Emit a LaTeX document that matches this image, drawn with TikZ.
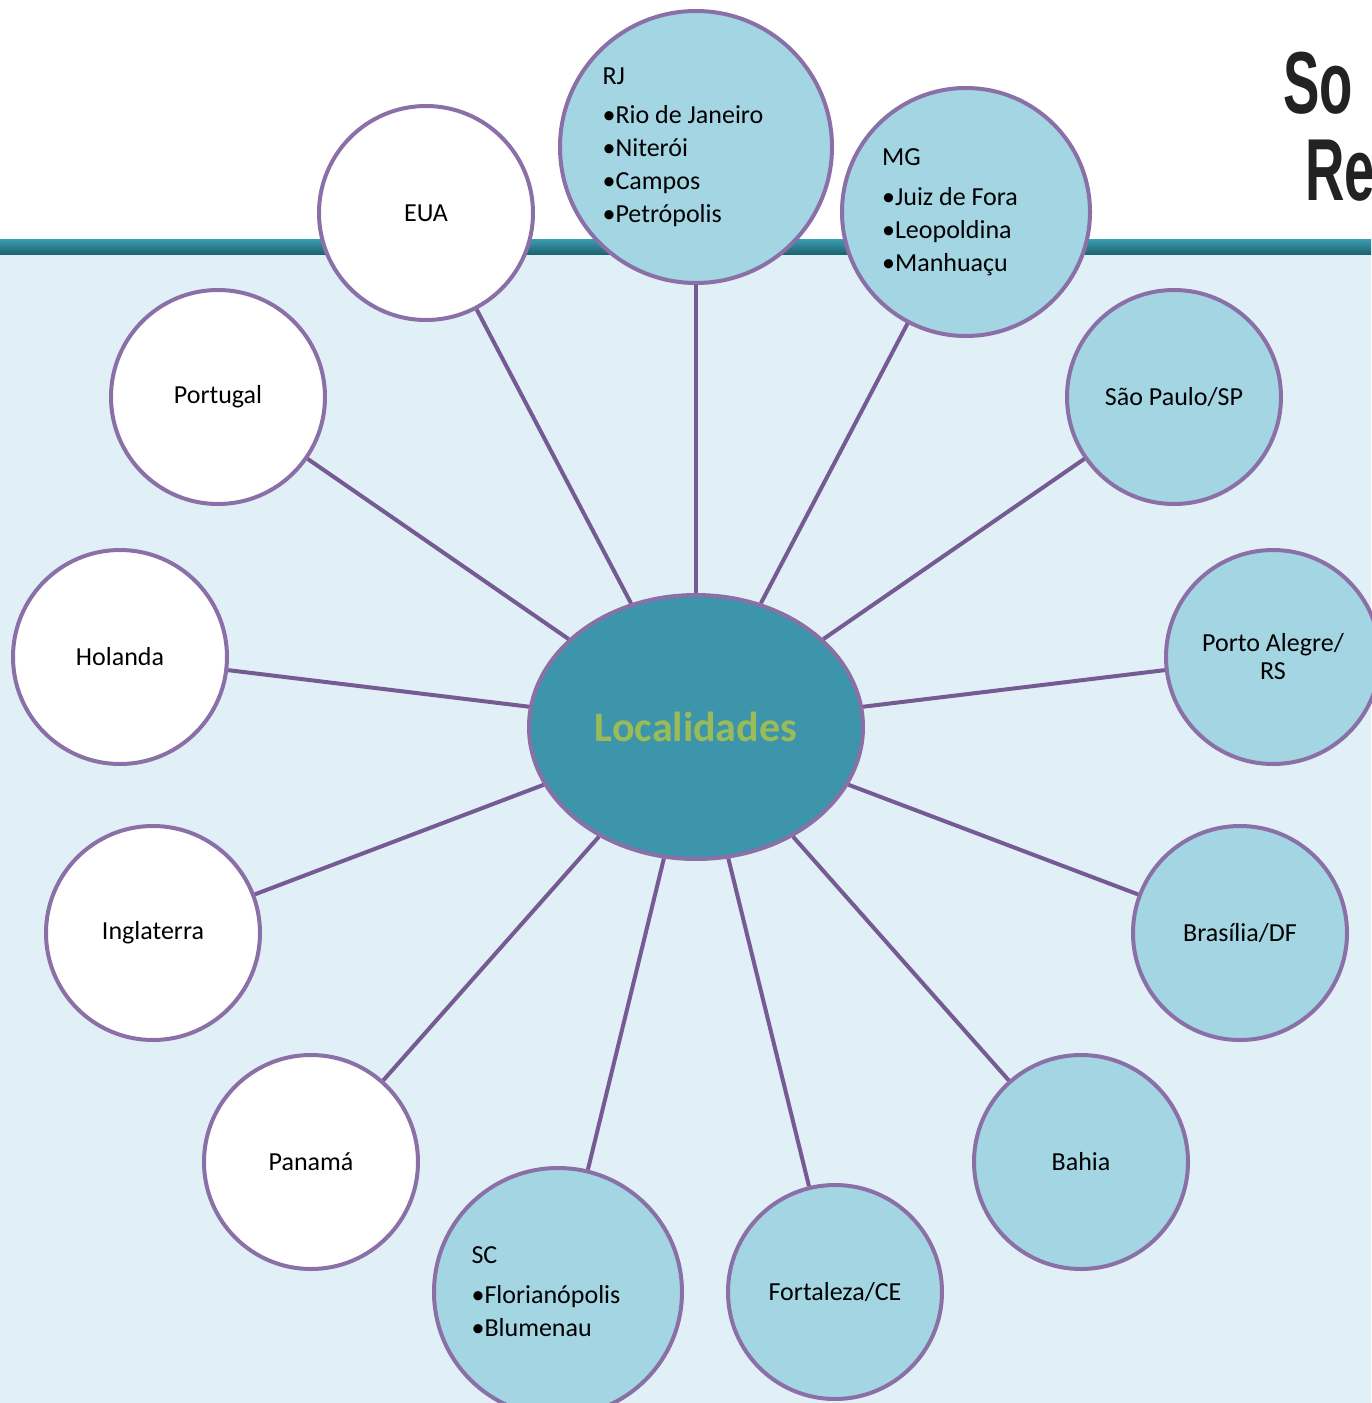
\documentclass[tikz,border=0pt]{standalone}
\usepackage{fontspec}
\setmainfont{Carlito}
\newfontfamily\titlefont[FakeStretch=0.62]{Liberation Sans}
\usetikzlibrary{shapes.geometric}
\definecolor{bgblue}{HTML}{E1EFF6}
\definecolor{bandtop}{HTML}{3A9DB1}
\definecolor{bandbot}{HTML}{1B5F6C}
\definecolor{ringc}{HTML}{8A70A6}
\definecolor{linkc}{HTML}{755A93}
\definecolor{cityfill}{HTML}{A3D5E3}
\definecolor{hubfill}{HTML}{3C95AB}
\definecolor{hubtext}{HTML}{9BBB59}
\definecolor{titlec}{HTML}{222222}
\newcommand{\padr}[1]{\rule{#1}{0pt}}
\begin{document}
\begin{tikzpicture}[x=1pt,y=-1pt,
  place/.style={circle, draw=ringc, line width=4pt, minimum size=214pt, inner sep=0pt,
    font=\fontsize{26}{33}\selectfont, text=black},
  foreign/.style={place, fill=white},
  home/.style={place, fill=cityfill},
  link/.style={draw=linkc, line width=4pt},
  titletext/.style={anchor=base west, inner sep=0pt, text=titlec,
    font=\titlefont\bfseries\fontsize{88}{88}\selectfont}]
\useasboundingbox (0,0) rectangle (1371,1403);
\fill[white] (0,0) rectangle (1371,240);
\shade[top color=bandtop, bottom color=bandbot] (0,239) rectangle (1371,255);
\fill[bgblue] (0,255) rectangle (1371,1403);
% title (cut at the right edge)
\node[titletext] (t1) at (1283,113) {So};
\node[titletext] (t2) at (1305,200) {Re};
% hub
\node[ellipse, draw=ringc, line width=4pt, fill=hubfill, minimum width=334pt,
  minimum height=264pt, inner sep=0pt, text=hubtext,
  font=\bfseries\fontsize{42}{42}\selectfont] (hub) at (696,727) {Localidades};
% places
\node[foreign] (eua) at (426,213) {EUA};
\node[home, minimum size=272pt, align=left] (rj) at (696,147)
  {RJ\\[6pt]•Rio de Janeiro\padr{26pt}\\•Niterói\\•Campos\\•Petrópolis};
\node[home, minimum size=248pt, align=left] (mg) at (966,212)
  {MG\\[7pt]•Juiz de Fora\padr{32pt}\\•Leopoldina\\•Manhuaçu};
\node[home] (sp) at (1174,397) {São Paulo/SP};
\node[home, align=center] (poa) at (1273,657) {Porto Alegre/\\[-5pt]RS};
\node[home] (df) at (1240,933) {Brasília/DF};
\node[home] (ba) at (1081,1162) {Bahia};
\node[home] (ce) at (835,1292) {Fortaleza/CE};
\node[home, minimum size=248pt, align=left] (sc) at (558,1292)
  {SC\\[7pt]•Florianópolis\padr{24pt}\\•Blumenau};
\node[foreign] (pa) at (311,1162) {Panamá};
\node[foreign] (ing) at (153,933) {Inglaterra};
\node[foreign] (hol) at (120,657) {Holanda};
\node[foreign] (pt) at (218,397) {Portugal};
% connectors
\foreach \n in {eua,rj,mg,sp,poa,df,ba,ce,sc,pa,ing,hol,pt}
  \draw[link] (hub) -- (\n);
\end{tikzpicture}
\end{document}
